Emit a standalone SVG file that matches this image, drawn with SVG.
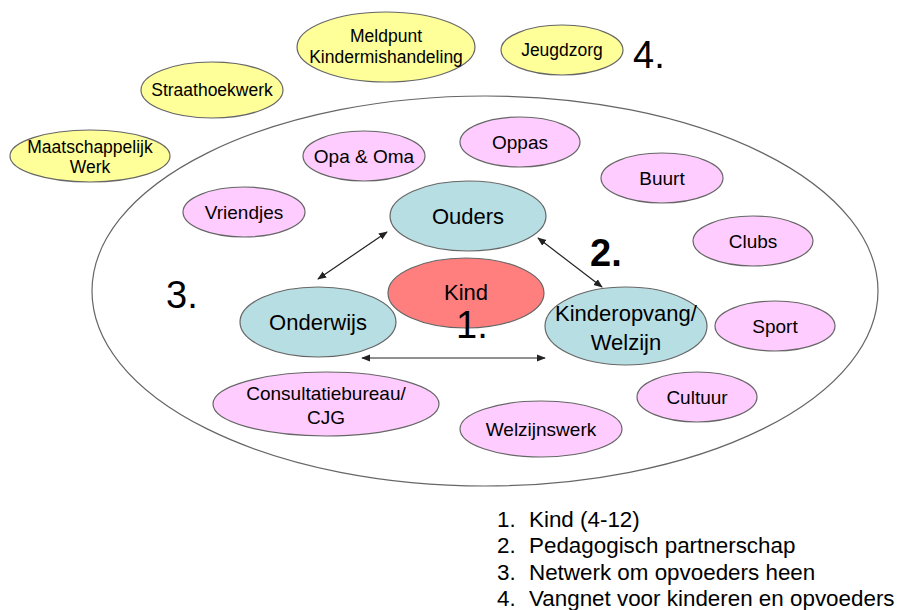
<svg xmlns="http://www.w3.org/2000/svg" width="897" height="610" viewBox="0 0 897 610">
<defs>
<style>
text{font-family:"Liberation Sans",Arial,sans-serif;fill:#000;}
.n ellipse{stroke:#666;stroke-width:1.2;}
.y ellipse{fill:#FFFF99;}
.p ellipse{fill:#FFCCFF;}
.b ellipse{fill:#B7DEE3;}
.k ellipse{fill:#FF7F7F;}
.y text{font-size:17.5px;text-anchor:middle;}
.p text{font-size:19px;text-anchor:middle;}
.b text,.k text{font-size:22px;text-anchor:middle;}
.big{font-size:38px;}
.leg{font-size:22.4px;}
.con line{stroke:#222;stroke-width:1.2;marker-start:url(#ah);marker-end:url(#ah);}
</style>
<marker id="ah" viewBox="0 0 10 10" refX="9" refY="5" markerWidth="9" markerHeight="9" markerUnits="userSpaceOnUse" orient="auto-start-reverse">
<path d="M0,1 L10,5 L0,9 Z" fill="#222"/>
</marker>
</defs>
<rect width="897" height="610" fill="#fff"/>
<ellipse id="outer" cx="485" cy="291" rx="393" ry="195" fill="none" stroke="#666" stroke-width="1.2"/>

<g id="meldpunt" class="n y"><ellipse cx="386" cy="47" rx="89" ry="35"/><text x="386" y="42">Meldpunt</text><text x="386" y="63">Kindermishandeling</text></g>
<g id="jeugdzorg" class="n y"><ellipse cx="562" cy="50" rx="61" ry="25"/><text x="562" y="56">Jeugdzorg</text></g>
<g id="straathoekwerk" class="n y"><ellipse cx="212" cy="90" rx="71" ry="28"/><text x="212" y="96">Straathoekwerk</text></g>
<g id="maatschappelijk" class="n y"><ellipse cx="90" cy="156" rx="80" ry="26"/><text x="90" y="153">Maatschappelijk</text><text x="90" y="173">Werk</text></g>

<g id="opaoma" class="n p"><ellipse cx="364" cy="156" rx="61" ry="25"/><text x="364" y="163">Opa &amp; Oma</text></g>
<g id="oppas" class="n p"><ellipse cx="520" cy="142" rx="60" ry="25"/><text x="520" y="149">Oppas</text></g>
<g id="buurt" class="n p"><ellipse cx="662" cy="178" rx="61" ry="25"/><text x="662" y="185">Buurt</text></g>
<g id="vriendjes" class="n p"><ellipse cx="244" cy="212" rx="61" ry="25"/><text x="244" y="219">Vriendjes</text></g>
<g id="clubs" class="n p"><ellipse cx="753" cy="241" rx="60" ry="25"/><text x="753" y="248">Clubs</text></g>
<g id="sport" class="n p"><ellipse cx="775" cy="326" rx="60" ry="25"/><text x="775" y="333">Sport</text></g>
<g id="cultuur" class="n p"><ellipse cx="697" cy="397" rx="60" ry="25"/><text x="697" y="404">Cultuur</text></g>
<g id="consultatiebureau" class="n p"><ellipse cx="326" cy="404" rx="113" ry="32"/><text x="326" y="400">Consultatiebureau/</text><text x="326" y="424">CJG</text></g>
<g id="welzijnswerk" class="n p"><ellipse cx="541" cy="429" rx="81" ry="28"/><text x="541" y="436">Welzijnswerk</text></g>

<g id="ouders" class="n b"><ellipse cx="468" cy="216" rx="78" ry="35"/><text x="468" y="224">Ouders</text></g>
<g id="kind" class="n k"><ellipse cx="466" cy="293" rx="78" ry="35"/><text x="466" y="300">Kind</text></g>
<g id="onderwijs" class="n b"><ellipse cx="318" cy="322" rx="78" ry="35"/><text x="318" y="330">Onderwijs</text></g>
<g id="kinderopvang" class="n b"><ellipse cx="626" cy="326" rx="81" ry="39"/><text x="626" y="321">Kinderopvang/</text><text x="626" y="350">Welzijn</text></g>

<g id="connectors" class="con">
<line x1="318" y1="279" x2="387" y2="232"/>
<line x1="538" y1="238" x2="602" y2="287"/>
<line x1="362" y1="358" x2="545" y2="358"/>
</g>

<g id="labels">
<text class="big" x="633" y="68">4.</text>
<text class="big" x="166" y="308">3.</text>
<text class="big" x="590" y="266" font-weight="bold">2.</text>
<text class="big" x="456" y="338">1.</text>
</g>

<g id="legend">
<text class="leg" x="497" y="527">1.</text><text class="leg" x="529" y="527">Kind (4-12)</text>
<text class="leg" x="497" y="553">2.</text><text class="leg" x="529" y="553">Pedagogisch partnerschap</text>
<text class="leg" x="497" y="580">3.</text><text class="leg" x="529" y="580">Netwerk om opvoeders heen</text>
<text class="leg" x="497" y="606">4.</text><text class="leg" x="529" y="606">Vangnet voor kinderen en opvoeders</text>
</g>
</svg>
